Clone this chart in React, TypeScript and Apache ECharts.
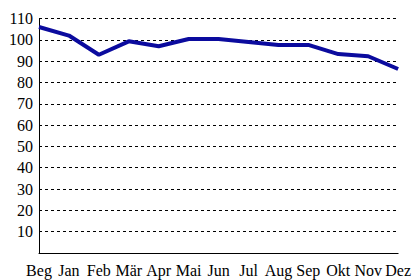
import React, { useEffect, useRef } from "react";
import * as echarts from "echarts";

const categories = ["Beg", "Jan", "Feb", "Mär", "Apr", "Mai", "Jun", "Jul", "Aug", "Sep", "Okt", "Nov", "Dez"];
const values = [106, 102, 93, 99.3, 97, 100.4, 100.4, 99, 97.6, 97.6, 93.3, 92.3, 86.3];
const yMin = 0;
const yMax = 110;
const yStep = 10;

export default function App() {
  const ref = useRef<HTMLDivElement>(null);
  useEffect(() => {
    if (!ref.current) return;
    const chart = echarts.init(ref.current, null, { renderer: "svg" });
    chart.setOption({
      animation: false,
      backgroundColor: "#ffffff",
      grid: { left: 39, right: 15, top: 18.5, bottom: 27, containLabel: false },
      xAxis: {
        type: "category",
        data: categories,
        boundaryGap: false,
        axisLine: { show: true, lineStyle: { color: "#000", width: 1 } },
        axisTick: { show: false },
        splitLine: { show: false },
        axisLabel: {
          color: "#000",
          fontFamily: "Liberation Serif, Times New Roman, serif",
          fontSize: 16,
          margin: 9,
          interval: 0,
        },
      },
      yAxis: {
        type: "value",
        min: yMin,
        max: yMax,
        interval: yStep,
        axisLine: { show: true, lineStyle: { color: "#000", width: 1 } },
        axisTick: { show: false },
        splitLine: { show: true, lineStyle: { color: "#000", type: [3, 3], width: 1 } },
        axisLabel: {
          color: "#000",
          fontFamily: "Liberation Serif, Times New Roman, serif",
          fontSize: 16,
          margin: 6,
          formatter: (v: number) => (v === 0 ? "" : String(v)),
        },
      },
      series: [
        {
          type: "line",
          data: values,
          showSymbol: false,
          symbol: "none",
          lineStyle: { color: "#0b0b9e", width: 4 },
          itemStyle: { color: "#0b0b9e" },
        },
      ],
    });
    return () => chart.dispose();
  }, []);
  return <div ref={ref} style={{ width: 414, height: 280, position: "absolute", left: 0, top: 0 }} />;
}
